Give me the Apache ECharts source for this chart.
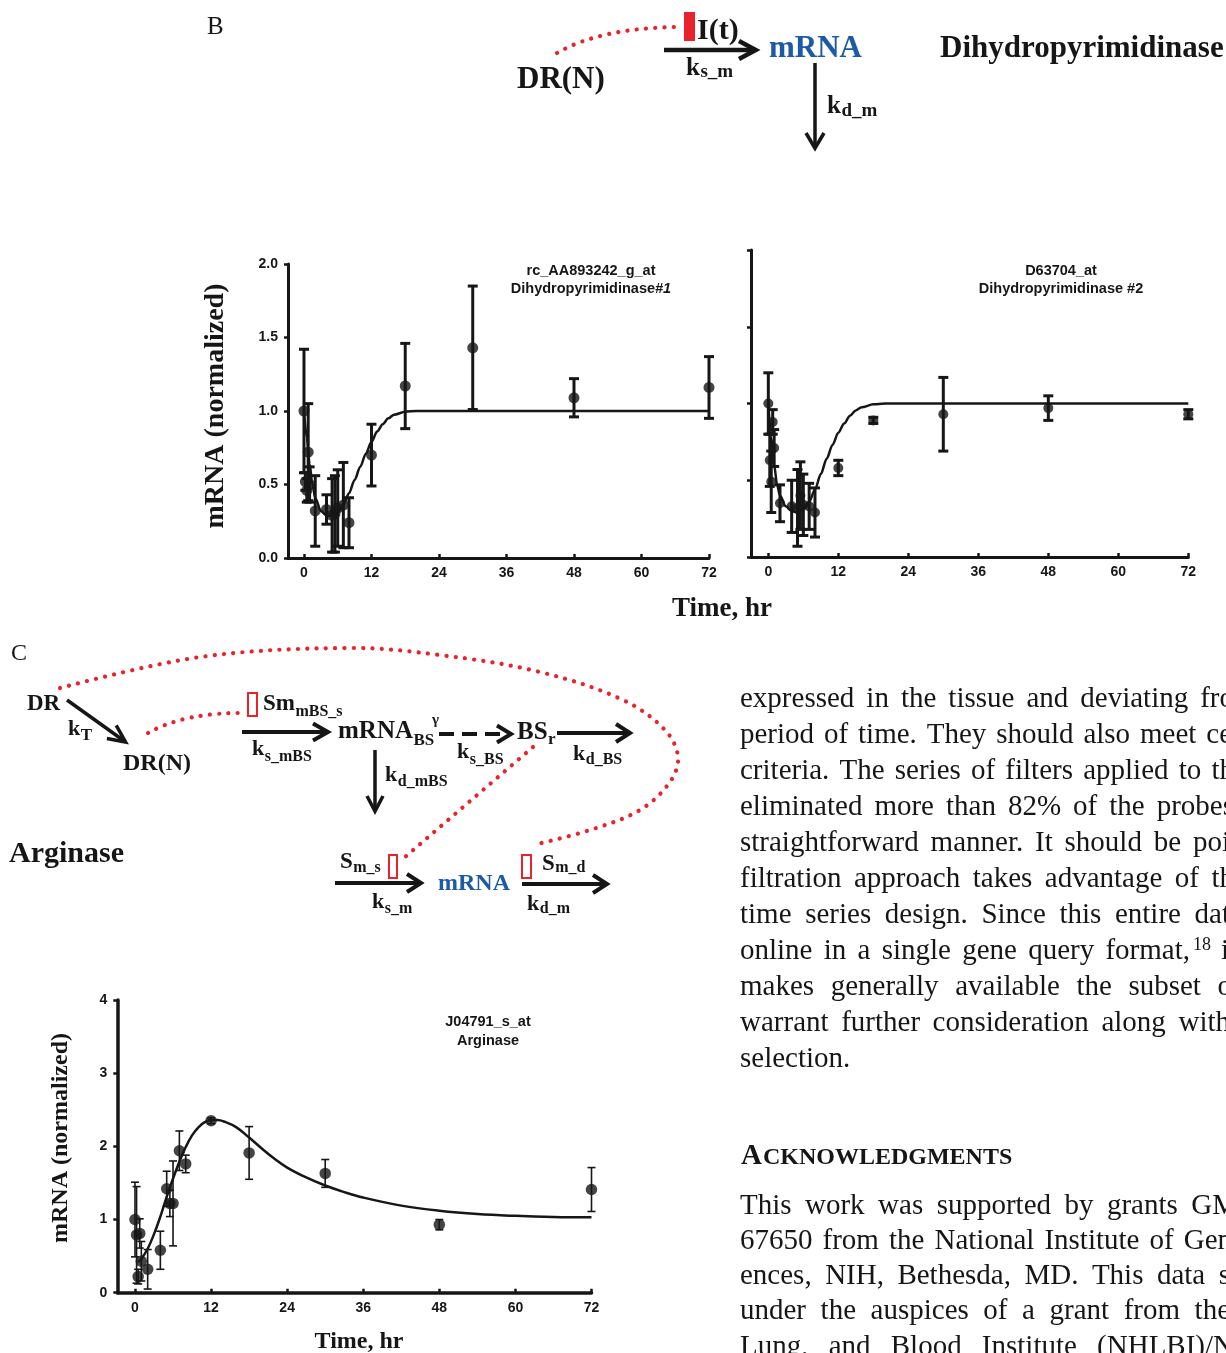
<!DOCTYPE html>
<html><head><meta charset="utf-8">
<script src="https://cdn.jsdelivr.net/npm/echarts@6.0.0/dist/echarts.min.js"></script>
<style>html,body{margin:0;padding:0;background:#fff;overflow:hidden}#c{width:1226px;height:1353px}</style>
</head><body><div id="c"></div>
<script>
// ---------------- DATA ----------------
const xTickValues = [0, 12, 24, 36, 48, 60, 72];

// Dihydropyrimidinase #1 (rc_AA893242_g_at)
const dhp1Time = [0, 0.25, 0.5, 0.75, 1, 2, 4, 5, 5.5, 6, 7, 8, 12, 18, 30, 48, 72];
const dhp1Mean = [1.00, 0.52, 0.46, 0.72, 0.50, 0.32, 0.33, 0.29, 0.30, 0.34, 0.36, 0.24, 0.70, 1.17, 1.43, 1.09, 1.16];
const dhp1Err  = [0.42, 0.06, 0.08, 0.33, 0.12, 0.24, 0.10, 0.25, 0.26, 0.26, 0.29, 0.17, 0.21, 0.29, 0.42, 0.13, 0.21];
const dhp1FitTime = [0, 0.5, 1, 1.5, 2, 3, 4, 5, 6, 7, 8, 9, 10, 11, 12, 13, 14, 15, 16, 18, 20, 24, 36, 48, 60, 72];
const dhp1FitVal  = [1.00, 0.82, 0.64, 0.50, 0.41, 0.32, 0.29, 0.285, 0.31, 0.36, 0.44, 0.53, 0.62, 0.71, 0.79, 0.86, 0.91, 0.95, 0.975, 0.995, 1.0, 1.0, 1.0, 1.0, 1.0, 1.0];

// Dihydropyrimidinase #2 (D63704_at)
const dhp2Time = [0, 0.25, 0.5, 0.75, 1, 2, 4, 5, 5.5, 6, 7, 8, 12, 18, 30, 48, 72];
const dhp2Mean = [1.00, 0.63, 0.49, 0.88, 0.71, 0.35, 0.33, 0.32, 0.40, 0.34, 0.33, 0.29, 0.58, 0.89, 0.93, 0.97, 0.93];
const dhp2Err  = [0.20, 0.17, 0.20, 0.08, 0.12, 0.12, 0.17, 0.25, 0.22, 0.20, 0.15, 0.16, 0.05, 0.02, 0.24, 0.08, 0.03];
const dhp2FitTime = [0, 0.5, 1, 1.5, 2, 3, 4, 5, 6, 7, 8, 9, 10, 11, 12, 13, 14, 15, 16, 18, 20, 24, 36, 48, 60, 72];
const dhp2FitVal  = [1.00, 0.78, 0.60, 0.47, 0.40, 0.33, 0.30, 0.29, 0.31, 0.36, 0.44, 0.54, 0.64, 0.73, 0.81, 0.87, 0.92, 0.955, 0.975, 0.995, 1.0, 1.0, 1.0, 1.0, 1.0, 1.0];

// Arginase (J04791_s_at)
const argTime = [0, 0.25, 0.5, 0.75, 1, 2, 4, 5, 5.5, 6, 7, 8, 12, 18, 30, 48, 72];
const argMean = [1.00, 0.79, 0.22, 0.81, 0.43, 0.32, 0.58, 1.42, 1.22, 1.22, 1.94, 1.76, 2.35, 1.91, 1.63, 0.93, 1.41];
const argErr  = [0.51, 0.66, 0.10, 0.20, 0.27, 0.27, 0.26, 0.24, 0.18, 0.58, 0.27, 0.12, 0.04, 0.36, 0.19, 0.07, 0.30];
const argFitTime = [0.5, 1, 2, 3, 4, 5, 6, 7, 8, 9, 10, 11, 12, 13, 14, 16, 18, 20, 22, 24, 27, 30, 33, 36, 42, 48, 54, 60, 66, 72];
const argFitVal  = [0.42, 0.46, 0.60, 0.80, 1.04, 1.31, 1.56, 1.79, 1.99, 2.15, 2.26, 2.33, 2.36, 2.36, 2.34, 2.26, 2.12, 1.97, 1.83, 1.71, 1.575, 1.465, 1.375, 1.30, 1.19, 1.12, 1.075, 1.05, 1.035, 1.03];

const chartTitles = [
  ['rc_AA893242_g_at', 'Dihydropyrimidinase', '#1'],
  ['D63704_at', 'Dihydropyrimidinase #2', ''],
  ['J04791_s_at', 'Arginase', '']
];
const axisTitleY = 'mRNA (normalized)';
const axisTitleX = 'Time, hr';

const bodyLines = [
  'expressed in the tissue and deviating fro',
  'period of time. They should also meet ce',
  'criteria. The series of filters applied to th',
  'eliminated more than 82% of the probes',
  'straightforward manner. It should be poi',
  'filtration approach takes advantage of th',
  'time series design. Since this entire dat',
  'online in a single gene query format,',
  'makes generally available the subset o',
  'warrant further consideration along with',
  'selection.'
];
const ackHeading = ['A', 'CKNOWLEDGMENTS'];
const ackLines = [
  'This work was supported by grants GM',
  '67650 from the National Institute of Gen',
  'ences, NIH, Bethesda, MD. This data s',
  'under the auspices of a grant from the',
  'Lung, and Blood Institute (NHLBI)/N'
];

// ---------------- STYLE / HELPERS ----------------
const INK = '#161616', RED = '#e8232b', BLUE = '#1d5aa6';
const SERIF = '"Liberation Serif","Times New Roman",serif';
const SANS = '"Liberation Sans",Arial,sans-serif';
const mctx = document.createElement('canvas').getContext('2d');
function tw(text, font) { mctx.font = font; return mctx.measureText(text).width; }
function fontOf(size, o) { return (o.italic ? 'italic ' : '') + (o.bold === false ? '' : 'bold ') + size + 'px ' + (o.family || SERIF); }
function T(x, base, text, size, o = {}) {
  return {
    type: 'text', x: x, y: base - 0.34 * size, silent: true, rotation: o.rotation || 0,
    style: { text: text, font: fontOf(size, o), fill: o.color || INK,
      align: o.align || 'left', textAlign: o.align || 'left', verticalAlign: 'middle', textVerticalAlign: 'middle' }
  };
}
function KS(x, base, main, sub, size, subSize, dy, o = {}) {
  const w = tw(main, fontOf(size, o));
  return [T(x, base, main, size, o), T(x + w + 0.5, base + dy, sub, subSize, o)];
}
function arrow(x1, y1, x2, y2, o = {}) {
  const lw = o.lw || 4, hl = o.hl || 17, hw = o.hw || 8.5;
  const dx = x2 - x1, dy = y2 - y1, L = Math.hypot(dx, dy), ux = dx / L, uy = dy / L;
  const bx = x2 - ux * hl, by = y2 - uy * hl, px = -uy * hw, py = ux * hw;
  return [
    { type: 'line', silent: true, shape: { x1: x1, y1: y1, x2: x2 - ux * lw * 0.6, y2: y2 - uy * lw * 0.6 },
      style: { stroke: INK, lineWidth: lw, lineDash: o.dash || null } },
    { type: 'polyline', silent: true, shape: { points: [[bx + px, by + py], [x2 - ux * lw * 0.5, y2 - uy * lw * 0.5], [bx - px, by - py]] },
      style: { stroke: INK, lineWidth: lw, fill: null, lineJoin: 'miter' } }
  ];
}
const DOT = { stroke: RED, lineWidth: 4.2, lineDash: [0.1, 9.2], lineCap: 'round', fill: null };
function justLine(text, x0, x1, base, size) {
  const words = text.split(' ');
  const font = fontOf(size, { bold: false });
  const ws = words.map(w => tw(w, font));
  const sum = ws.reduce((a, b) => a + b, 0);
  const gap = words.length > 1 ? (x1 - x0 - sum) / (words.length - 1) : 0;
  let x = x0;
  return words.map((w, i) => { const el = T(x, base, w, size, { bold: false }); x += ws[i] + gap; return el; });
}

// ---------------- GRAPHICS ----------------
let G = [];
// Panel B diagram
G.push(T(207, 36, 'B', 25, { bold: false }));
G.push({ type: 'bezierCurve', silent: true, shape: { x1: 557, y1: 53, x2: 678, y2: 27, cpx1: 600, cpy1: 28 }, style: DOT });
G.push({ type: 'rect', silent: true, shape: { x: 684, y: 12, width: 11, height: 29 }, style: { fill: RED } });
G.push(T(697, 41, 'I(t)', 30));
G = G.concat(arrow(664, 50, 758, 50, { lw: 4.5, hl: 19, hw: 9 }));
G = G.concat(KS(686, 77, 'k', 's_m', 25, 19, 2));
G.push(T(769, 60, 'mRNA', 31, { color: BLUE }));
G.push(T(940, 60, 'Dihydropyrimidinase', 31));
G = G.concat(arrow(815, 63, 815, 150, { lw: 3.5, hl: 17, hw: 9 }));
G = G.concat(KS(827, 115, 'k', 'd_m', 25, 19, 3));
G.push(T(517, 91, 'DR(N)', 31));

// Panel C diagram
G.push(T(11, 662, 'C', 24, { bold: false }));
G.push({ type: 'polyline', silent: true, shape: { smooth: 0.35, points: [[60, 688], [200, 657], [350, 648], [440, 655], [540, 672], [623, 700], [665, 730], [678, 757], [670, 782], [640, 810], [590, 830], [533, 845]] }, style: DOT });
G.push({ type: 'bezierCurve', silent: true, shape: { x1: 148, y1: 733, x2: 247, y2: 713, cpx1: 185, cpy1: 712 }, style: DOT });
G.push({ type: 'line', silent: true, shape: { x1: 533, y1: 747, x2: 405, y2: 857 }, style: DOT });
G.push(T(27, 711.5, 'DR', 23));
G = G.concat(arrow(67, 700, 127, 743, { lw: 3.5, hl: 19, hw: 8 }));
G = G.concat(KS(68, 737, 'k', 'T', 22, 17, 4.5));
G.push(T(123, 771.5, 'DR(N)', 24));
G.push({ type: 'rect', silent: true, shape: { x: 248, y: 693, width: 9, height: 23 }, style: { fill: null, stroke: RED, lineWidth: 2 } });
G = G.concat(KS(263, 711.5, 'Sm', 'mBS_s', 23, 16, 6));
G = G.concat(arrow(242, 732, 330, 732, { lw: 4, hl: 17, hw: 8.5 }));
G = G.concat(KS(252, 757, 'k', 's_mBS', 22, 16, 5.5));
G = G.concat(KS(338, 740, 'mRNA', 'BS', 25, 17, 6));
G.push(T(432, 725, 'γ', 15));
G = G.concat(arrow(439, 734, 513, 734, { lw: 4, hl: 16, hw: 8.5, dash: [15, 8] }));
G = G.concat(KS(457, 760, 'k', 's_BS', 22, 16, 5));
G = G.concat(KS(517, 741.5, 'BS', 'r', 25, 17, 4));
G = G.concat(arrow(557, 733, 632, 733, { lw: 4, hl: 16, hw: 9 }));
G = G.concat(KS(573, 761.5, 'k', 'd_BS', 22, 16, 4));
G = G.concat(arrow(375, 750, 375, 813, { lw: 3.5, hl: 17, hw: 8 }));
G = G.concat(KS(385, 783, 'k', 'd_mBS', 22, 16, 4));
G.push(T(9, 864, 'Arginase', 30));
G = G.concat(KS(340, 870, 'S', 'm_s', 23, 16, 3));
G.push({ type: 'rect', silent: true, shape: { x: 389, y: 855, width: 8, height: 23 }, style: { fill: null, stroke: RED, lineWidth: 2 } });
G = G.concat(arrow(335, 883, 423, 883, { lw: 4, hl: 16, hw: 9 }));
G = G.concat(KS(372, 910, 'k', 's_m', 22, 16, 4));
G.push(T(438, 891.5, 'mRNA', 24, { color: BLUE }));
G.push({ type: 'rect', silent: true, shape: { x: 522, y: 855, width: 9, height: 23 }, style: { fill: null, stroke: RED, lineWidth: 2 } });
G = G.concat(KS(542, 871.5, 'S', 'm_d', 23, 16, 2));
G = G.concat(arrow(522, 884, 609, 884, { lw: 4, hl: 16, hw: 9 }));
G = G.concat(KS(527, 911.5, 'k', 'd_m', 22, 16, 3));

// chart titles
function centeredTitle(cx, base, a, b, size) {
  const f1 = fontOf(size, { family: SANS }), f2 = fontOf(size, { family: SANS, italic: true });
  const w1 = tw(a, f1), w2 = b ? tw(b, f2) : 0;
  const x0 = cx - (w1 + w2) / 2;
  const out = [T(x0, base, a, size, { family: SANS })];
  if (b) out.push(T(x0 + w1, base, b, size, { family: SANS, italic: true }));
  return out;
}
G = G.concat(centeredTitle(591, 276, chartTitles[0][0], '', 14.5));
G = G.concat(centeredTitle(591, 294, chartTitles[0][1], chartTitles[0][2], 14.5));
G = G.concat(centeredTitle(1061, 276, chartTitles[1][0], '', 14.5));
G = G.concat(centeredTitle(1061, 294, chartTitles[1][1], '', 14.5));
G = G.concat(centeredTitle(488, 1027, chartTitles[2][0], '', 14.5));
G = G.concat(centeredTitle(488, 1046, chartTitles[2][1], '', 14.5));

// axis titles
G.push({ type: 'text', x: 216, y: 406, rotation: Math.PI / 2, silent: true,
  style: { text: axisTitleY, font: fontOf(28, {}), fill: INK, align: 'center', textAlign: 'center', verticalAlign: 'middle', textVerticalAlign: 'middle' } });
G.push({ type: 'text', x: 61, y: 1138, rotation: Math.PI / 2, silent: true,
  style: { text: axisTitleY, font: fontOf(24, {}), fill: INK, align: 'center', textAlign: 'center', verticalAlign: 'middle', textVerticalAlign: 'middle' } });
G.push(T(722, 618, axisTitleX, 27, { align: 'center' }));
G.push(T(359, 1350, axisTitleX, 24, { align: 'center' }));

// body text
const bodyRight = [1234, 1232, 1234, 1234, 1230, 1234, 1230, 1190, 1232, 1230, null];
const bodyBase0 = 709;
bodyLines.forEach((ln, i) => {
  const base = bodyBase0 + 36 * i;
  if (bodyRight[i] == null) G.push(T(740, base, ln, 29, { bold: false }));
  else G = G.concat(justLine(ln, 740, bodyRight[i], base, 29));
});
G.push(T(1193, bodyBase0 + 36 * 7 - 10, '18', 18, { bold: false }));
G.push(T(1221, bodyBase0 + 36 * 7, 'it', 29, { bold: false }));
{
  const wA = tw(ackHeading[0], fontOf(29, {}));
  G.push(T(741, 1166, ackHeading[0], 29));
  G.push(T(741 + wA + 1, 1166, ackHeading[1], 24));
}
const ackRight = [1238, 1232, 1230, 1230, 1234];
ackLines.forEach((ln, i) => { G = G.concat(justLine(ln, 740, ackRight[i], 1216 + 35.25 * i, 29)); });

// ---------------- CHARTS ----------------
function errRender(capW, lw) {
  return function (params, api) {
    const t = api.value(0), lo = api.value(1), hi = api.value(2);
    const a = api.coord([t, lo]), b = api.coord([t, hi]);
    const st = { stroke: INK, lineWidth: lw };
    return { type: 'group', children: [
      { type: 'line', shape: { x1: a[0], y1: a[1], x2: b[0], y2: b[1] }, style: st },
      { type: 'line', shape: { x1: a[0] - capW, y1: a[1], x2: a[0] + capW, y2: a[1] }, style: st },
      { type: 'line', shape: { x1: b[0] - capW, y1: b[1], x2: b[0] + capW, y2: b[1] }, style: st }
    ] };
  };
}
const lblStyle = { color: INK, fontFamily: SANS, fontWeight: 'bold', fontSize: 14 };
function xAx(grid, min, lw) {
  return { gridIndex: grid, type: 'value', min: min, max: 72,
    axisLine: { show: true, onZero: false, lineStyle: { color: INK, width: lw } },
    axisTick: { show: true, inside: true, length: 4, lineStyle: { color: INK, width: 2.5 }, customValues: xTickValues },
    axisLabel: Object.assign({ margin: 8, customValues: xTickValues }, lblStyle),
    splitLine: { show: false } };
}
function yAx(grid, max, interval, showLbl, fmt, lw) {
  return { gridIndex: grid, type: 'value', min: 0, max: max, interval: interval,
    axisLine: { show: true, onZero: false, lineStyle: { color: INK, width: lw } },
    axisTick: { show: true, inside: false, length: 4, lineStyle: { color: INK, width: 2.5 } },
    axisLabel: Object.assign({ show: showLbl, margin: 10, formatter: fmt }, lblStyle),
    splitLine: { show: false } };
}
function seriesFor(idx, time, mean, err, fitT, fitV, sym, capW, elw, clw, smooth, mono) {
  const ln = { type: 'line', xAxisIndex: idx, yAxisIndex: idx, data: fitT.map((t, i) => [t, fitV[i]]), smooth: smooth,
      showSymbol: false, symbol: 'none', lineStyle: { color: INK, width: clw }, silent: true, z: 2 };
  if (mono) ln.smoothMonotone = 'x';
  return [
    ln,
    { type: 'custom', xAxisIndex: idx, yAxisIndex: idx, data: time.map((t, i) => [t, mean[i] - err[i], mean[i] + err[i]]),
      renderItem: errRender(capW, elw), silent: true, z: 3 },
    { type: 'scatter', xAxisIndex: idx, yAxisIndex: idx, data: time.map((t, i) => [t, mean[i]]), symbol: 'circle', symbolSize: sym,
      itemStyle: { color: INK }, silent: true, z: 4 }
  ];
}

const chart = echarts.init(document.getElementById('c'), null, { renderer: 'canvas' });
chart.setOption({
  backgroundColor: '#ffffff',
  animation: false,
  grid: [
    { left: 288, top: 264, width: 421, height: 294, containLabel: false, outerBoundsMode: 'none' },
    { left: 751, top: 250, width: 437.3, height: 307, containLabel: false, outerBoundsMode: 'none' },
    { left: 117.3, top: 1000, width: 474.2, height: 292.7, containLabel: false, outerBoundsMode: 'none' }
  ],
  xAxis: [xAx(0, -2.84, 3), xAx(1, -2.97, 3), xAx(2, -2.79, 3.5)],
  yAxis: [
    yAx(0, 2, 0.5, true, v => v.toFixed(1), 3),
    yAx(1, 2, 0.5, false, v => v.toFixed(1), 3),
    yAx(2, 4, 1, true, v => String(v), 3.5)
  ],
  series: [].concat(
    seriesFor(0, dhp1Time, dhp1Mean, dhp1Err, dhp1FitTime, dhp1FitVal, 11, 5, 3, 2.5, 0.3, true),
    seriesFor(1, dhp2Time, dhp2Mean, dhp2Err, dhp2FitTime, dhp2FitVal, 10, 5, 3, 2.5, 0.3, true),
    seriesFor(2, argTime, argMean, argErr, argFitTime, argFitVal, 11.5, 4, 1.6, 2.5, 0.4, false)
  ),
  graphic: { elements: G }
});
</script>
</body></html>
